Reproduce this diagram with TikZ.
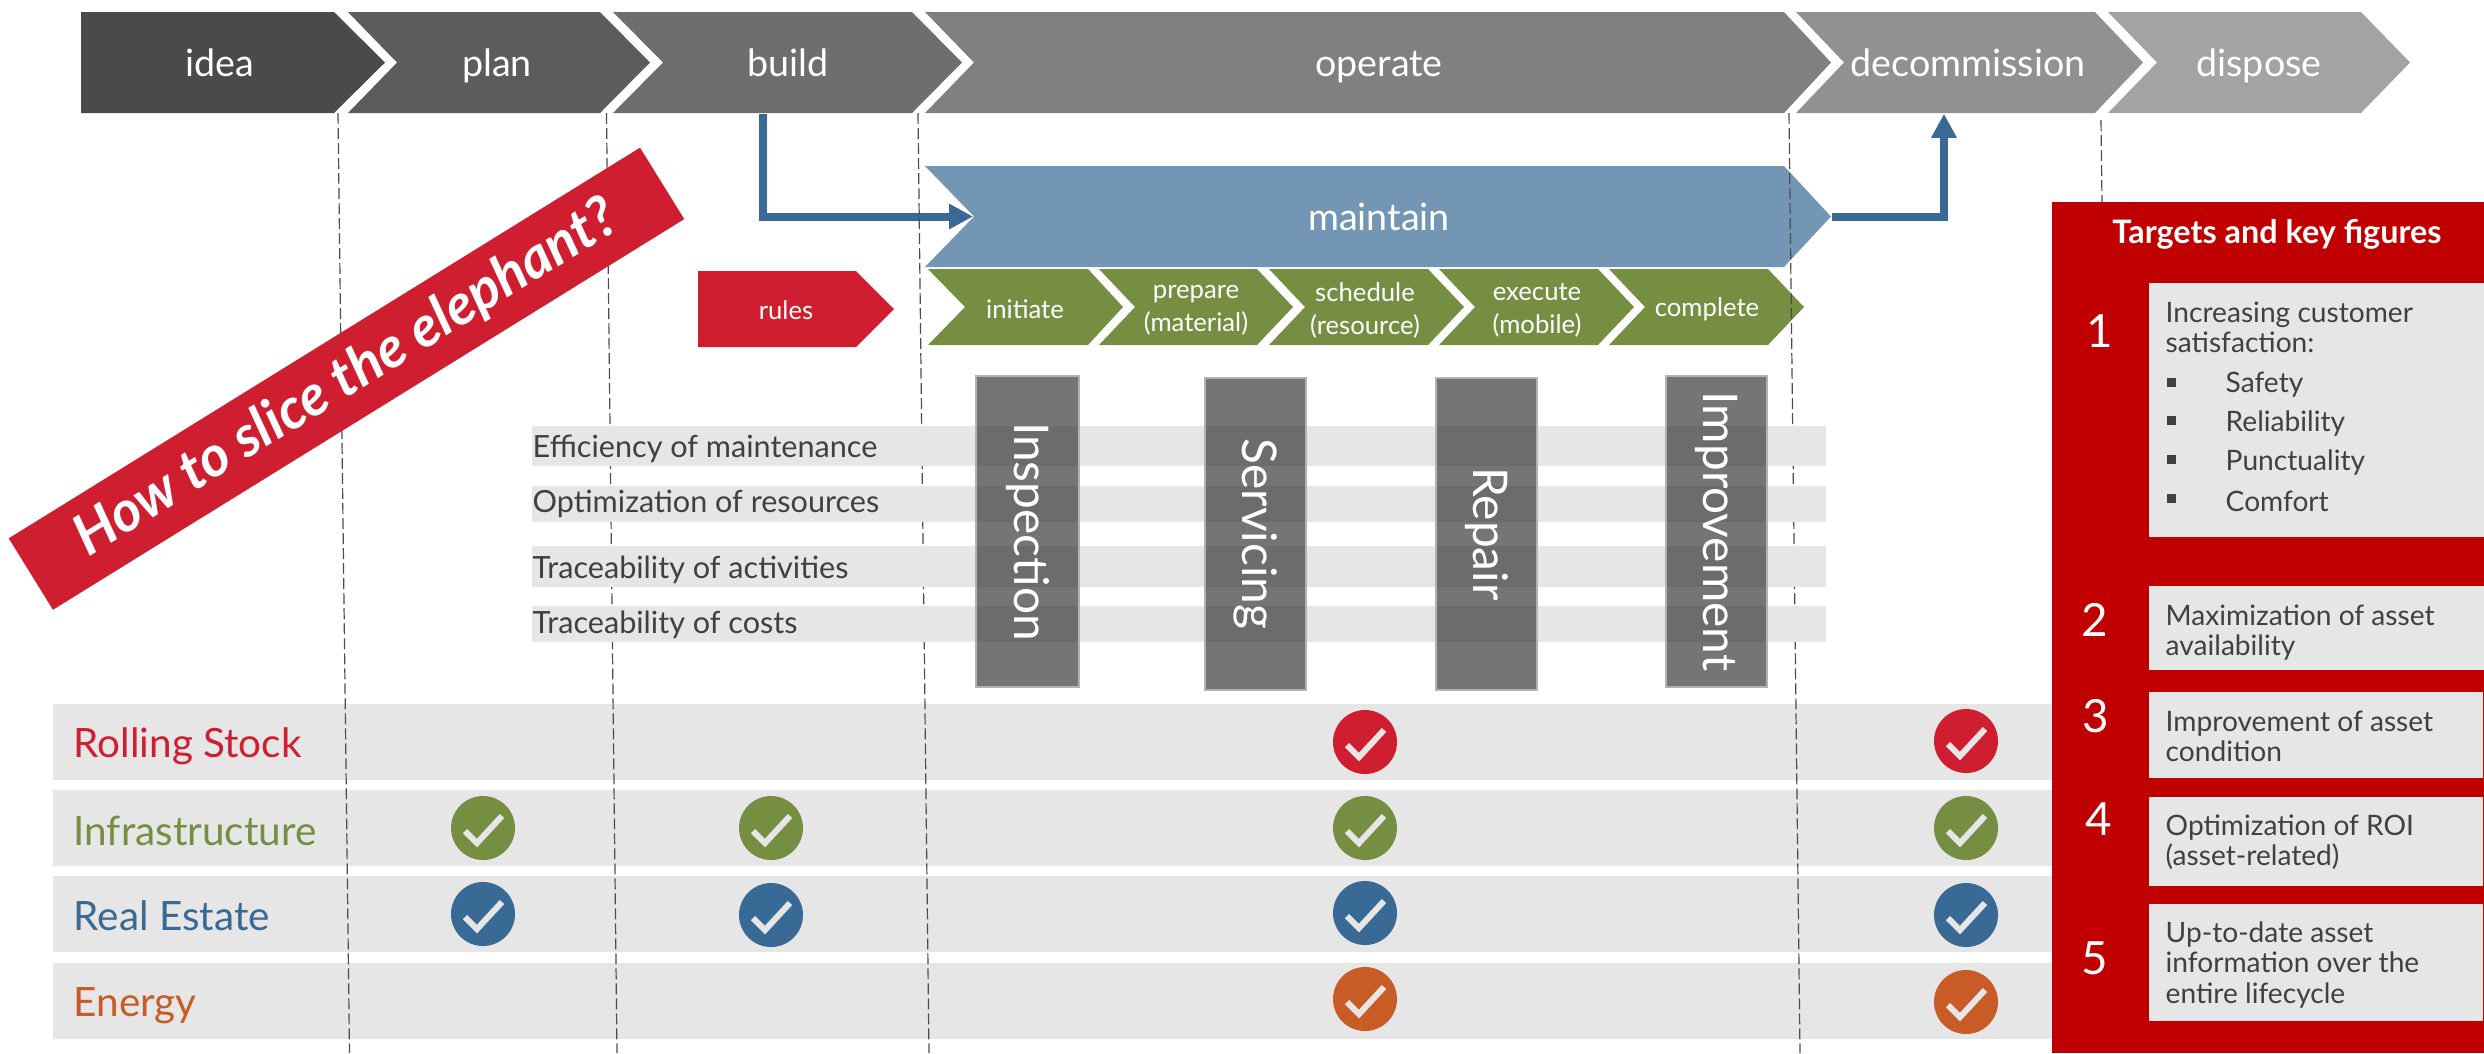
\documentclass[tikz,border=0pt]{standalone}
\usepackage{fontspec}
\setmainfont{Lato}
\usetikzlibrary{positioning}
\usetikzlibrary{arrows.meta}
\definecolor{railred}{HTML}{CF1E30}
\definecolor{railgreen}{HTML}{758E42}
\definecolor{railblue}{HTML}{386A95}
\definecolor{railorange}{HTML}{C95B27}
\definecolor{panelred}{HTML}{C00000}
\definecolor{maintainblue}{HTML}{7396B5}
\definecolor{barlight}{HTML}{E6E6E6}
\definecolor{inktext}{HTML}{404040}
\tikzset{
  phase/.style={text=white,font=\fontsize{10.7}{12}\selectfont,inner sep=0pt,text height=9pt,text depth=1.3pt,minimum height=1.01cm},
  substep/.style={text=white,font=\fontsize{7.3}{9.4}\selectfont,align=center,inner sep=0pt,minimum height=0.76cm},
  flow/.style={draw=railblue,line width=0.08cm,-{Triangle[length=0.24cm,width=0.24cm]}},
  lane/.style={font=\fontsize{11.5}{13}\selectfont,anchor=west,inner sep=0pt},
  metric/.style={fill=barlight,draw=none,minimum width=12.94cm,anchor=north west,inner sep=0pt},
  metrictext/.style={font=\fontsize{8.7}{10}\selectfont,text=inktext,anchor=west,inner sep=0pt},
  activity/.style={draw=black!30,line width=0.015cm,fill=black!80,fill opacity=0.68,text opacity=1,text=white,font=\fontsize{13.6}{15}\selectfont,rotate=-90,inner sep=0pt},
  target/.style={fill=barlight,anchor=north west,inner sep=0pt},
  targettext/.style={font=\fontsize{8}{8.54}\selectfont,text=inktext,anchor=west,align=left,inner sep=0pt},
  targetnum/.style={font=\fontsize{13}{15}\selectfont,text=white,inner sep=0pt},
  tick/.pic={
    \fill[pic actions] (0,0) circle (32);
    \draw[barlight,line width=0.06cm] (-18,3) -- (-6,15) -- (19,-12);
  },
}
\begin{document}
\begin{tikzpicture}[x=0.01cm,y=-0.01cm]
\useasboundingbox (0,0) rectangle (2484,1053);
% lanes
\foreach \ya/\yb in {704/780,790/866,876/952,963/1039}
  \fill[barlight] (53,\ya) rectangle (2052,\yb);
\node[lane,text=railred] (rolling) at (73,746) {Rolling Stock};
\node[lane,text=railgreen] (infra) at (73,831) {Infrastructure};
\node[lane,text=railblue] (estate) at (73,916) {Real Estate};
\node[lane,text=railorange] (energy) at (73,1006) {Energy};

% phases
\fill[fill=black!71] (81,12) -- (334,12) -- (385,62.5) -- (334,113) -- (81,113) -- cycle;
\fill[fill=black!64] (348,12) -- (600,12) -- (650,62.5) -- (600,113) -- (348,113) -- (397,62.5) -- cycle;
\fill[fill=black!57] (613,12) -- (912,12) -- (962,62.5) -- (912,113) -- (613,113) -- (663,62.5) -- cycle;
\fill[fill=black!50] (925,12) -- (1784,12) -- (1831,62.5) -- (1784,113) -- (925,113) -- (974,62.5) -- cycle;
\fill[fill=black!43] (1796,12) -- (2095,12) -- (2143,62.5) -- (2095,113) -- (1796,113) -- (1844,62.5) -- cycle;
\fill[fill=black!36] (2108,12) -- (2361,12) -- (2410,62.5) -- (2361,113) -- (2108,113) -- (2157,62.5) -- cycle;
\node[phase] (idea) at (220,62.5) {idea};
\node[phase] (plan) at (497,62.5) {plan};
\node[phase] (build) at (788,62.5) {build};
\node[phase] (operate) at (1379,62.5) {operate};
\node[phase] (decommission) at (1968,62.5) {decommission};
\node[phase] (dispose) at (2259,62.5) {dispose};

% maintain and its steps
\fill[fill=maintainblue] (925,166) -- (1784,166) -- (1831,216.5) -- (1784,267) -- (925,267) -- (974,216.5) -- cycle;
\node[phase,minimum width=8.1cm] (maintain) at (1379,216.5) {maintain};
\fill[fill=railgreen] (928,269) -- (1088,269) -- (1123,307) -- (1088,345) -- (928,345) -- (965,307) -- cycle;
\fill[fill=railgreen] (1099,269) -- (1257,269) -- (1293,307) -- (1257,345) -- (1099,345) -- (1135,307) -- cycle;
\fill[fill=railgreen] (1269,269) -- (1428,269) -- (1464,307) -- (1428,345) -- (1269,345) -- (1305,307) -- cycle;
\fill[fill=railgreen] (1439,269) -- (1598,269) -- (1634,307) -- (1598,345) -- (1439,345) -- (1475,307) -- cycle;
\fill[fill=railgreen] (1609,269) -- (1768,269) -- (1804,307) -- (1768,345) -- (1609,345) -- (1645,307) -- cycle;
\node[substep] (initiate) at (1025,309) {initiate};
\node[substep] (prepare) at (1196,310) {prepare\\(material)};
\node[substep] (schedule) at (1365,310) {schedule\\(resource)};
\node[substep] (execute) at (1537,310) {execute\\(mobile)};
\node[substep] (complete) at (1707,309) {complete};
\fill[fill=railred] (698,271) -- (856,271) -- (894,309) -- (856,347) -- (698,347) -- cycle;
\node[substep] (rules) at (786,310) {rules};

\draw[flow] ([xshift=-0.25cm]build.south) |- (maintain.west);
\draw[flow] ([xshift=0.47cm]maintain.east) -| ([xshift=-0.24cm]decommission.south);

\foreach \xa/\ya/\xb/\yb in {338/113/349.5/1053,606.5/113/617/1053,918/113/929/1053,1789/113/1800/1053,2101/120/2102/202}
  \draw[black!70,dash pattern=on 0.11cm off 0.04cm,line width=0.012cm] (\xa,\ya) -- (\xb,\yb);

% banner
\node[fill=railred,rotate=31.75,minimum width=7.42cm,minimum height=0.84cm,inner sep=0pt,text=white,font=\bfseries\itshape\fontsize{16.1}{18}\selectfont] (slice) at (346.5,378.7) {How to slice the elephant?};

% metrics
\foreach \ya/\h in {425/0.40cm,485/0.36cm,545/0.41cm,605/0.36cm}
  \node[metric,minimum height=\h] at (531,\ya) {};
\node[metrictext] (efficiency) at (532,448.5) {Efficiency of maintenance};
\node[metrictext] (resources) at (532,503.5) {Optimization of resources};
\node[metrictext] (activities) at (532,569.5) {Traceability of activities};
\node[metrictext] (costs) at (532,624.5) {Traceability of costs};

\node[activity,minimum width=3.11cm,minimum height=1.03cm] (inspection) at (1027.5,531.5) {Inspection};
\node[activity,minimum width=3.12cm,minimum height=1.01cm] (servicing) at (1255.5,534) {Servicing};
\node[activity,minimum width=3.12cm,minimum height=1.01cm] (repair) at (1486.5,534) {Repair};
\node[activity,minimum width=3.11cm,minimum height=1.01cm] (improvement) at (1716.5,531.5) {Improvement};

% ticks
\foreach \px/\py/\col in {1365/742/railred,1966/741/railred,
  483/828/railgreen,771/828/railgreen,1365/828/railgreen,1966/828/railgreen,
  483/914/railblue,771/915/railblue,1365/913/railblue,1966/915/railblue,
  1365/999/railorange,1966/1002/railorange}
  \pic[fill=\col] at (\px,\py) {tick};

% targets
\fill[panelred] (2052,202) rectangle (2484,1053);
\node[font=\bfseries\fontsize{9.2}{11}\selectfont,text=white,inner sep=0pt] (targets) at (2277,234) {Targets and key figures};
\node[target,minimum width=3.36cm,minimum height=2.54cm] (box1) at (2148,282) {};
\node[target,minimum width=3.36cm,minimum height=0.84cm] (box2) at (2148,585) {};
\node[target,minimum width=3.34cm,minimum height=0.86cm] (box3) at (2148,691) {};
\node[target,minimum width=3.34cm,minimum height=0.89cm] (box4) at (2148,796) {};
\node[target,minimum width=3.34cm,minimum height=1.17cm] (box5) at (2148,903) {};
\node[targetnum] (num1) at (2100,331) {1};
\node[targetnum] (num2) at (2095,620) {2};
\node[targetnum] (num3) at (2096,716) {3};
\node[targetnum] (num4) at (2099,819) {4};
\node[targetnum] (num5) at (2095,958) {5};
\node[targettext] (satisfaction) at (2165,327) {Increasing customer\\satisfaction:};
\foreach \yy/\word in {382/Safety,420.5/Reliability,459.5/Punctuality,498.5/Comfort}{
  \fill[inktext] (2167,\yy-4.5) rectangle (2176,\yy+4.5);
  \node[targettext] (\word) at (2225,\yy+3) {\word};
}
\node[targettext] (availability) at (2165,633) {Maximization of asset\\availability};
\node[targettext] (condition) at (2165,736) {Improvement of asset\\condition};
\node[targettext] (roi) at (2165,842) {Optimization of ROI\\(asset-related)};
\node[targettext] (lifecycle) at (2165,965) {Up-to-date asset\\information over the\\entire lifecycle};
\end{tikzpicture}
\end{document}
